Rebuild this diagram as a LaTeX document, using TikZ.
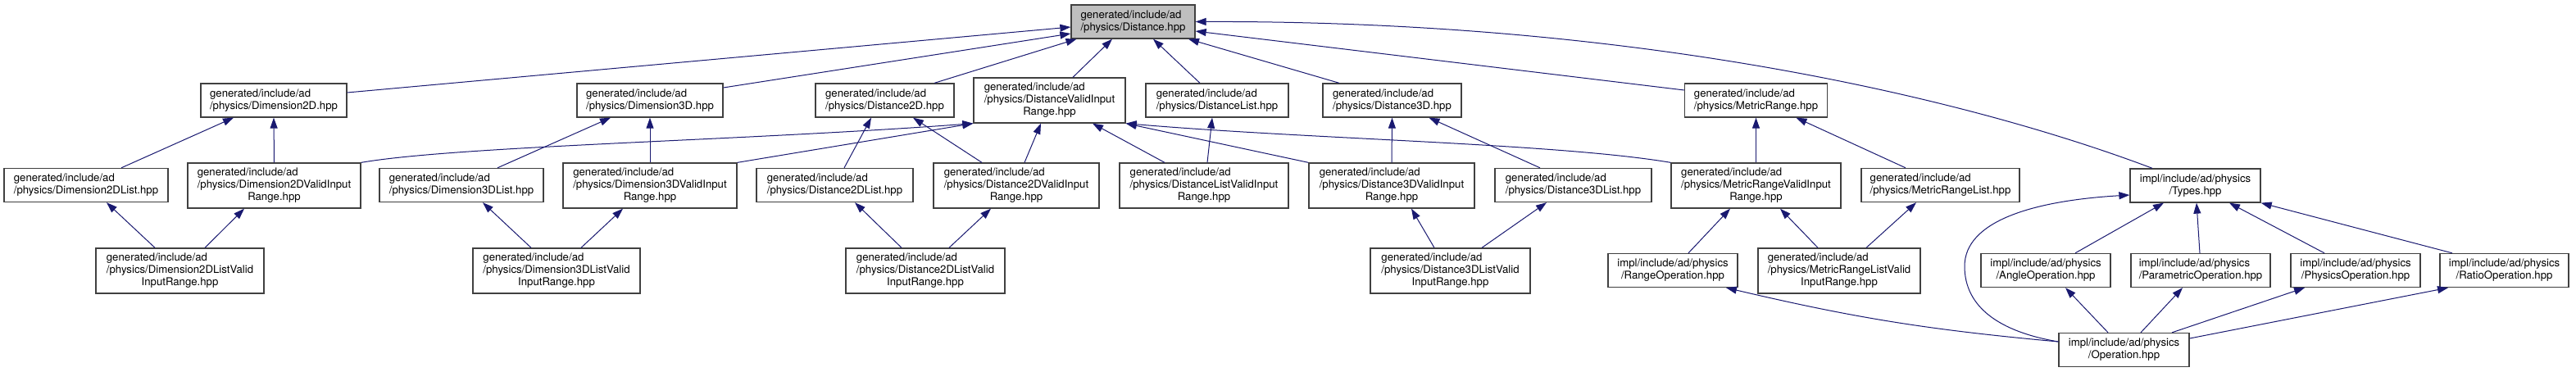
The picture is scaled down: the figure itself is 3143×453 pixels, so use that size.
\documentclass[tikz,border=0pt]{standalone}
\usepackage{fontspec}
\setmainfont{TeX Gyre Heros}
\usetikzlibrary{arrows.meta}
\definecolor{mblue}{HTML}{191970}
\definecolor{gborder}{HTML}{404040}
\definecolor{gfill}{HTML}{BFBFBF}
\newcommand\gtwo[1]{\begin{tabular}{@{}l@{}}generated/include/ad\\/physics/#1\end{tabular}}
\newcommand\gthree[2]{\begin{tabular}{@{}l@{}}generated/include/ad\\/physics/#1\\\multicolumn{1}{@{}c@{}}{#2}\end{tabular}}
\newcommand\itwo[1]{\begin{tabular}{@{}l@{}}impl/include/ad/physics\\\multicolumn{1}{@{}c@{}}{/#1}\end{tabular}}
\tikzset{
  filebox/.style={draw=gborder, fill=white, line width=1.3pt, inner sep=0pt,
    minimum height=41pt, font=\fontsize{13.2}{15}\selectfont},
  tallbox/.style={filebox, minimum height=55pt},
  curbox/.style={filebox, fill=gfill},
  dep/.style={draw=mblue, line width=1pt, -{Triangle[length=13pt,width=9pt]}}
}
\begin{document}
\begin{tikzpicture}[x=1pt,y=-1pt]
\useasboundingbox (0,0) rectangle (3143,453);
% level 0
\node[curbox, minimum width=151pt] (dist) at (1382.5,26.5) {\gtwo{Distance.hpp}};
% level 1
\node[filebox, minimum width=178pt] (dim2d) at (334,122.5) {\gtwo{Dimension2D.hpp}};
\node[filebox, minimum width=178pt] (dim3d) at (793,122.5) {\gtwo{Dimension3D.hpp}};
\node[filebox, minimum width=169pt] (dist2d) at (1079.5,122.5) {\gtwo{Distance2D.hpp}};
\node[tallbox, minimum width=185pt] (distvalid) at (1280.5,122.5) {\gthree{DistanceValidInput}{Range.hpp}};
\node[filebox, minimum width=174pt] (distlist) at (1485,122.5) {\gtwo{DistanceList.hpp}};
\node[filebox, minimum width=169pt] (dist3d) at (1698.5,122.5) {\gtwo{Distance3D.hpp}};
\node[filebox, minimum width=174pt] (metric) at (2142.5,122.5) {\gtwo{MetricRange.hpp}};
% level 2
\node[filebox, minimum width=200pt] (dim2dlist) at (105,226) {\gtwo{Dimension2DList.hpp}};
\node[tallbox, minimum width=211pt] (dim2dvalid) at (334.5,226.5) {\gthree{Dimension2DValidInput}{Range.hpp}};
\node[filebox, minimum width=200pt] (dim3dlist) at (563,226) {\gtwo{Dimension3DList.hpp}};
\node[tallbox, minimum width=212pt] (dim3dvalid) at (793,226.5) {\gthree{Dimension3DValidInput}{Range.hpp}};
\node[filebox, minimum width=191pt] (dist2dlist) at (1018.5,226) {\gtwo{Distance2DList.hpp}};
\node[tallbox, minimum width=202pt] (dist2dvalid) at (1240,226.5) {\gthree{Distance2DValidInput}{Range.hpp}};
\node[tallbox, minimum width=206pt] (distlistvalid) at (1469,226.5) {\gthree{DistanceListValidInput}{Range.hpp}};
\node[tallbox, minimum width=202pt] (dist3dvalid) at (1698,226.5) {\gthree{Distance3DValidInput}{Range.hpp}};
\node[filebox, minimum width=191pt] (dist3dlist) at (1919.5,226) {\gtwo{Distance3DList.hpp}};
\node[tallbox, minimum width=207pt] (metricvalid) at (2142.5,226.5) {\gthree{MetricRangeValidInput}{Range.hpp}};
\node[filebox, minimum width=193pt] (metriclist) at (2367.5,226) {\gtwo{MetricRangeList.hpp}};
\node[filebox, minimum width=159pt] (types) at (2678.5,226.5) {\itwo{Types.hpp}};
% level 3
\node[tallbox, minimum width=205pt] (dim2dlistvalid) at (219.5,330.5) {\gthree{Dimension2DListValid}{InputRange.hpp}};
\node[tallbox, minimum width=204pt] (dim3dlistvalid) at (679,330.5) {\gthree{Dimension3DListValid}{InputRange.hpp}};
\node[tallbox, minimum width=194pt] (dist2dlistvalid) at (1129,330.5) {\gthree{Distance2DListValid}{InputRange.hpp}};
\node[tallbox, minimum width=195pt] (dist3dlistvalid) at (1769.5,330.5) {\gthree{Distance3DListValid}{InputRange.hpp}};
\node[filebox, minimum width=158pt] (rangeop) at (2041,330) {\itwo{RangeOperation.hpp}};
\node[tallbox, minimum width=198pt] (metriclistvalid) at (2244,330.5) {\gthree{MetricRangeListValid}{InputRange.hpp}};
\node[filebox, minimum width=158pt] (angle) at (2496,330) {\itwo{AngleOperation.hpp}};
\node[filebox, minimum width=170pt] (param) at (2685,330) {\itwo{ParametricOperation.hpp}};
\node[filebox, minimum width=158pt] (physics) at (2874,330) {\itwo{PhysicsOperation.hpp}};
\node[filebox, minimum width=157pt] (ratio) at (3055.5,330) {\itwo{RatioOperation.hpp}};
% level 4
\node[filebox, minimum width=159pt] (operation) at (2591.5,427) {\itwo{Operation.hpp}};
% edges into Distance
\draw[dep] ([yshift=9.5pt]dim2d.east) -- ([yshift=-6.5pt]dist.west);
\draw[dep] ([yshift=15.5pt]dim3d.east) -- ([yshift=-14.5pt]dist.west);
\draw[dep] ([xshift=60.5pt]dist2d.north) -- ([xshift=-69pt]dist.south);
\draw[dep] ([xshift=28.5pt]distvalid.north) -- ([xshift=-25.5pt]dist.south);
\draw[dep] ([xshift=-21pt]distlist.north) -- ([xshift=24.5pt]dist.south);
\draw[dep] ([xshift=-64.5pt]dist3d.north) -- ([xshift=67.5pt]dist.south);
\draw[dep] ([yshift=12.5pt]metric.west) -- ([yshift=-11.5pt]dist.east);
\draw[dep] ([xshift=-52.5pt]types.north) .. controls (2400,120) and (2000,25) .. (dist.east);
% level 2 -> level 1
\draw[dep] ([xshift=43pt]dim2dlist.north) -- ([xshift=-49pt]dim2d.south);
\draw[dep] (dim2dvalid.north) -- (dim2d.south);
\draw[dep] (dim2dvalid.north east) .. controls (560,178) and (900,172) .. (distvalid.south west);
\draw[dep] ([xshift=44pt]dim3dlist.north) -- ([xshift=-48pt]dim3d.south);
\draw[dep] (dim3dvalid.north) -- (dim3d.south);
\draw[dep] (dim3dvalid.north east) -- (distvalid.south west);
\draw[dep] ([xshift=11.5pt]dist2dlist.north) -- ([xshift=-16.5pt]dist2d.south);
\draw[dep] ([xshift=-42pt]dist2dvalid.north) -- ([xshift=34.5pt]dist2d.south);
\draw[dep] ([xshift=10pt]dist2dvalid.north) -- ([xshift=-10.5pt]distvalid.south);
\draw[dep] ([xshift=-48pt]distlistvalid.north) -- ([xshift=52.5pt]distvalid.south);
\draw[dep] ([xshift=4pt]distlistvalid.north) -- ([xshift=-6pt]distlist.south);
\draw[dep] (dist3dvalid.north west) -- (distvalid.south east);
\draw[dep] (metricvalid.north west) .. controls (1900,175) and (1600,170) .. (distvalid.south east);
\draw[dep] (dist3dvalid.north) -- (dist3d.south);
\draw[dep] ([xshift=-40.5pt]dist3dlist.north) -- ([xshift=45pt]dist3d.south);
\draw[dep] (metricvalid.north) -- (metric.south);
\draw[dep] ([xshift=-42.5pt]metriclist.north) -- ([xshift=49pt]metric.south);
% level 3 -> level 2
\draw[dep] ([xshift=-30.5pt]dim2dlistvalid.north) -- ([xshift=25pt]dim2dlist.south);
\draw[dep] ([xshift=30.5pt]dim2dlistvalid.north) -- ([xshift=-36.5pt]dim2dvalid.south);
\draw[dep] ([xshift=-31pt]dim3dlistvalid.north) -- ([xshift=26pt]dim3dlist.south);
\draw[dep] ([xshift=30pt]dim3dlistvalid.north) -- ([xshift=-33pt]dim3dvalid.south);
\draw[dep] ([xshift=-29pt]dist2dlistvalid.north) -- ([xshift=24.5pt]dist2dlist.south);
\draw[dep] ([xshift=29pt]dist2dlistvalid.north) -- ([xshift=-31pt]dist2dvalid.south);
\draw[dep] ([xshift=-19.5pt]dist3dlistvalid.north) -- ([xshift=24pt]dist3dvalid.south);
\draw[dep] ([xshift=38.5pt]dist3dlistvalid.north) -- ([xshift=-32.5pt]dist3dlist.south);
\draw[dep] ([xshift=19pt]rangeop.north) -- ([xshift=-31.5pt]metricvalid.south);
\draw[dep] ([xshift=-26pt]metriclistvalid.north) -- ([xshift=29.5pt]metricvalid.south);
\draw[dep] ([xshift=33pt]metriclistvalid.north) -- ([xshift=-29.5pt]metriclist.south);
\draw[dep] ([xshift=36pt]angle.north) -- ([xshift=-38.5pt]types.south);
\draw[dep] ([xshift=-1pt]param.north) -- ([xshift=1.5pt]types.south);
\draw[dep] ([xshift=-38pt]physics.north) -- ([xshift=41.5pt]types.south);
\draw[dep] ([xshift=-63.5pt]ratio.north) -- (types.south east);
% Operation
\draw[dep] ([yshift=10pt]operation.west) to[bend left=4] ([xshift=65pt]rangeop.south);
\draw[dep] ([yshift=10pt]operation.west) .. controls (2440,405) and (2397,375) .. (2397,325)
   .. controls (2397,270) and (2480,245) .. ([yshift=-11.5pt]types.west);
\draw[dep] ([xshift=-19.5pt]operation.north) -- ([xshift=24pt]angle.south);
\draw[dep] ([xshift=20.5pt]operation.north) -- ([xshift=-22pt]param.south);
\draw[dep] ([xshift=58.5pt]operation.north) -- ([xshift=-62pt]physics.south);
\draw[dep] ([yshift=14pt]operation.east) -- ([xshift=-68.5pt]ratio.south);
\end{tikzpicture}
\end{document}
